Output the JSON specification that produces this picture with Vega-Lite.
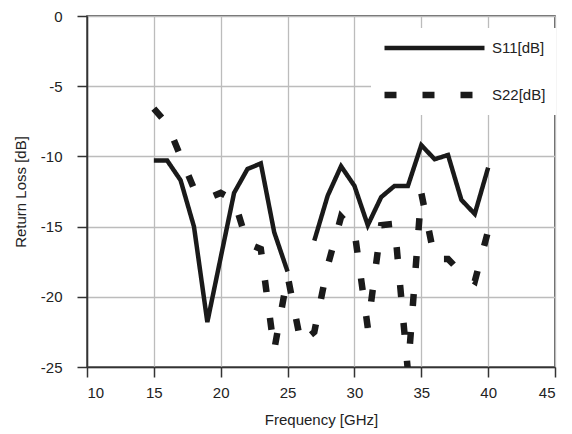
{
  "$schema": "https://vega.github.io/schema/vega-lite/v6.json",
  "width": 468,
  "height": 351,
  "autosize": {"type": "none"},
  "padding": {"left": 87, "top": 16, "right": 17, "bottom": 67},
  "background": "white",
  "config": {
    "font": "Liberation Sans, Arial",
    "view": {"stroke": "#333333", "strokeWidth": 1.5},
    "axis": {
      "labelFont": "Liberation Sans, Arial",
      "labelFontSize": 15,
      "labelColor": "#222222",
      "labelExpr": "datum.value + ''",
      "titleFont": "Liberation Sans, Arial",
      "titleFontSize": 15,
      "titleFontWeight": "normal",
      "titleColor": "#222222",
      "gridColor": "#bcbcbc",
      "gridWidth": 1.3,
      "domainColor": "#333333",
      "domainWidth": 1.5,
      "tickColor": "#333333",
      "tickWidth": 1.5,
      "tickSize": 10
    }
  },
  "data": {
    "values": [
      {"f": 15, "series": "S11[dB]", "dB": -10.3},
      {"f": 16, "series": "S11[dB]", "dB": -10.3},
      {"f": 17, "series": "S11[dB]", "dB": -11.7},
      {"f": 18, "series": "S11[dB]", "dB": -15.0},
      {"f": 19, "series": "S11[dB]", "dB": -21.8},
      {"f": 20, "series": "S11[dB]", "dB": -17.2},
      {"f": 21, "series": "S11[dB]", "dB": -12.6},
      {"f": 22, "series": "S11[dB]", "dB": -10.9},
      {"f": 23, "series": "S11[dB]", "dB": -10.5},
      {"f": 24, "series": "S11[dB]", "dB": -15.4},
      {"f": 25, "series": "S11[dB]", "dB": -18.2},
      {"f": 26, "series": "S11[dB]", "dB": null},
      {"f": 27, "series": "S11[dB]", "dB": -16.0},
      {"f": 28, "series": "S11[dB]", "dB": -12.8},
      {"f": 29, "series": "S11[dB]", "dB": -10.7},
      {"f": 30, "series": "S11[dB]", "dB": -12.1},
      {"f": 31, "series": "S11[dB]", "dB": -14.9},
      {"f": 32, "series": "S11[dB]", "dB": -12.9},
      {"f": 33, "series": "S11[dB]", "dB": -12.1},
      {"f": 34, "series": "S11[dB]", "dB": -12.1},
      {"f": 35, "series": "S11[dB]", "dB": -9.2},
      {"f": 36, "series": "S11[dB]", "dB": -10.2},
      {"f": 37, "series": "S11[dB]", "dB": -9.9},
      {"f": 38, "series": "S11[dB]", "dB": -13.1},
      {"f": 39, "series": "S11[dB]", "dB": -14.1},
      {"f": 40, "series": "S11[dB]", "dB": -10.8},
      {"f": 15, "series": "S22[dB]", "dB": -6.6},
      {"f": 16, "series": "S22[dB]", "dB": -7.7},
      {"f": 17, "series": "S22[dB]", "dB": -10.0},
      {"f": 18, "series": "S22[dB]", "dB": -12.3},
      {"f": 19, "series": "S22[dB]", "dB": -13.0},
      {"f": 20, "series": "S22[dB]", "dB": -12.6},
      {"f": 21, "series": "S22[dB]", "dB": -13.1},
      {"f": 22, "series": "S22[dB]", "dB": -16.2},
      {"f": 23, "series": "S22[dB]", "dB": -16.6},
      {"f": 24, "series": "S22[dB]", "dB": -23.8},
      {"f": 25, "series": "S22[dB]", "dB": -18.5},
      {"f": 26, "series": "S22[dB]", "dB": -23.3},
      {"f": 27, "series": "S22[dB]", "dB": -22.5},
      {"f": 28, "series": "S22[dB]", "dB": -17.8},
      {"f": 29, "series": "S22[dB]", "dB": -14.3},
      {"f": 30, "series": "S22[dB]", "dB": -15.3},
      {"f": 31, "series": "S22[dB]", "dB": -22.2},
      {"f": 32, "series": "S22[dB]", "dB": -14.9},
      {"f": 33, "series": "S22[dB]", "dB": -14.8},
      {"f": 34, "series": "S22[dB]", "dB": -25.3},
      {"f": 35, "series": "S22[dB]", "dB": -12.6},
      {"f": 36, "series": "S22[dB]", "dB": -17.3},
      {"f": 37, "series": "S22[dB]", "dB": -17.3},
      {"f": 38, "series": "S22[dB]", "dB": -18.3},
      {"f": 39, "series": "S22[dB]", "dB": -18.9},
      {"f": 40, "series": "S22[dB]", "dB": -15.3}
    ]
  },
  "mark": {"type": "line", "clip": true, "invalid": "break-paths-show-domains", "color": "#1a1a1a"},
  "encoding": {
    "x": {
      "field": "f",
      "type": "quantitative",
      "scale": {"domain": [10, 45], "nice": false},
      "axis": {"title": "Frequency [GHz]", "values": [10, 15, 20, 25, 30, 35, 40, 45], "labelPadding": 8, "titlePadding": 12}
    },
    "y": {
      "field": "dB",
      "type": "quantitative",
      "scale": {"domain": [-25, 0], "nice": false},
      "axis": {"title": "Return Loss [dB]", "values": [-25, -20, -15, -10, -5, 0], "labelPadding": 15, "titlePadding": 12}
    },
    "strokeDash": {
      "field": "series",
      "type": "nominal",
      "scale": {"domain": ["S11[dB]", "S22[dB]"], "range": [[1, 0], [12, 26]]},
      "legend": {
        "orient": "none",
        "legendX": 284,
        "legendY": 12,
        "title": null,
        "fillColor": "white",
        "padding": 10,
        "symbolType": "stroke",
        "symbolSize": 10000,
        "symbolStrokeColor": "#1a1a1a",
        "clipHeight": 20,
        "rowPadding": 27,
        "labelFont": "Liberation Sans, Arial",
        "labelFontSize": 15,
        "labelColor": "#222222",
        "labelOffset": 4
      }
    },
    "strokeWidth": {
      "field": "series",
      "type": "ordinal",
      "scale": {"domain": ["S11[dB]", "S22[dB]"], "range": [4.5, 6.5]},
      "legend": {
        "orient": "none",
        "legendX": 284,
        "legendY": 12,
        "title": null,
        "fillColor": "white",
        "padding": 10,
        "symbolType": "stroke",
        "symbolSize": 10000,
        "symbolStrokeColor": "#1a1a1a",
        "clipHeight": 20,
        "rowPadding": 27,
        "labelFont": "Liberation Sans, Arial",
        "labelFontSize": 15,
        "labelColor": "#222222",
        "labelOffset": 4
      }
    }
  }
}
